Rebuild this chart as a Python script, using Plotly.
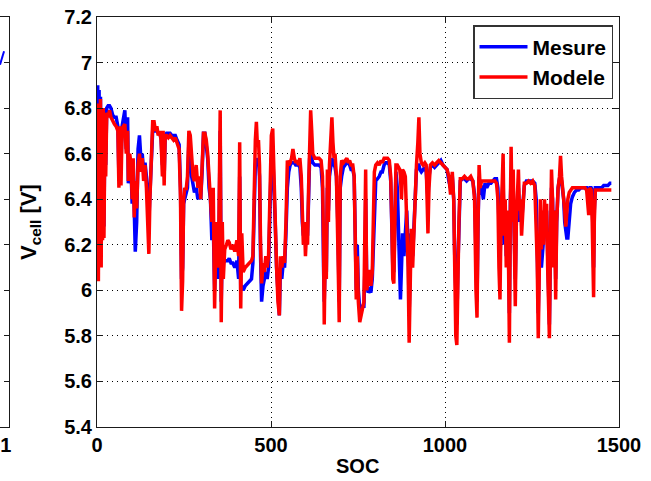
import plotly.graph_objects as go

# SOC sample positions shared by both series
soc = [
    0, 2, 4, 6, 8, 10, 12, 14, 16, 18, 20, 23, 25, 28, 32, 36, 40, 45, 50, 55,
    60, 63, 66, 69, 72, 76, 80, 84, 88, 90, 94, 98, 101, 104, 107, 110, 114, 118, 122, 126,
    130, 134, 138, 142, 146, 149, 152, 156, 160, 164, 168, 172, 176, 180, 184, 188, 190, 193, 196, 200,
    205, 210, 215, 220, 225, 230, 236, 240, 243, 246, 249, 252, 256, 260, 264, 268, 272, 276, 280, 285,
    290, 294, 298, 302, 306, 310, 314, 318, 322, 326, 330, 334, 338, 342, 346, 350, 354, 357, 360, 363,
    367, 372, 376, 380, 385, 390, 396, 402, 407, 410, 413, 416, 420, 426, 432, 438, 444, 448, 452, 455,
    458, 461, 464, 467, 470, 473, 477, 481, 485, 489, 493, 497, 501, 505, 508, 512, 516, 520, 524, 527,
    531, 535, 539, 543, 547, 551, 555, 559, 563, 567, 571, 575, 579, 583, 587, 590, 593, 596, 599, 602,
    605, 608, 611, 614, 617, 620, 626, 632, 638, 644, 648, 651, 653, 656, 659, 662, 665, 668, 672, 675,
    678, 681, 684, 688, 692, 696, 699, 703, 708, 713, 718, 722, 726, 730, 735, 739, 742, 745, 748, 751,
    755, 759, 763, 767, 770, 772, 775, 779, 783, 787, 791, 794, 797, 801, 806, 811, 816, 820, 825, 830,
    835, 840, 844, 847, 850, 853, 856, 859, 863, 867, 870, 872, 875, 878, 882, 886, 890, 894, 897, 900,
    903, 907, 910, 914, 918, 922, 925, 928, 932, 937, 942, 946, 949, 951, 954, 958, 964, 970, 976, 982,
    988, 994, 1000, 1006, 1011, 1016, 1021, 1025, 1028, 1031, 1034, 1037, 1040, 1044, 1050, 1056, 1062, 1068, 1074, 1080,
    1085, 1089, 1092, 1095, 1098, 1101, 1105, 1110, 1115, 1120, 1126, 1132, 1138, 1143, 1148, 1152, 1155, 1158, 1161, 1164,
    1167, 1170, 1173, 1176, 1179, 1182, 1185, 1188, 1190, 1193, 1196, 1199, 1202, 1205, 1208, 1211, 1214, 1217, 1220, 1224,
    1228, 1234, 1240, 1246, 1252, 1258, 1262, 1265, 1268, 1271, 1274, 1277, 1280, 1283, 1286, 1289, 1292, 1295, 1298, 1300,
    1303, 1306, 1309, 1312, 1315, 1318, 1321, 1325, 1329, 1332, 1335, 1338, 1341, 1344, 1347, 1350, 1353, 1357, 1361, 1366,
    1372, 1378, 1384, 1390, 1396, 1402, 1407, 1410, 1413, 1416, 1420, 1423, 1425, 1427, 1429, 1432, 1438, 1444, 1450, 1456,
    1462, 1468, 1474, 1478,
]

v_mesure = [
    6.15, 6.90, 6.14, 6.88, 6.40, 6.85, 6.20, 6.80, 6.30, 6.80, 6.28, 6.78, 6.55, 6.80, 6.81, 6.81, 6.80, 6.77, 6.76, 6.76,
    6.72, 6.50, 6.70, 6.55, 6.72, 6.75, 6.79, 6.62, 6.76, 6.47, 6.58, 6.52, 6.38, 6.55, 6.26, 6.17, 6.30, 6.62, 6.68, 6.58,
    6.60, 6.52, 6.56, 6.50, 6.40, 6.30, 6.42, 6.62, 6.70, 6.72, 6.70, 6.70, 6.69, 6.69, 6.67, 6.55, 6.68, 6.50, 6.68, 6.69,
    6.69, 6.69, 6.68, 6.68, 6.68, 6.66, 6.64, 6.45, 6.05, 6.10, 6.38, 6.40, 6.42, 6.45, 6.65, 6.62, 6.50, 6.45, 6.43, 6.45,
    6.40, 6.42, 6.40, 6.52, 6.69, 6.69, 6.64, 6.58, 6.45, 6.40, 6.22, 6.30, 6.00, 6.20, 6.05, 6.15, 6.70, 5.95, 6.20, 6.12,
    6.13, 6.13, 6.13, 6.14, 6.12, 6.12, 6.10, 6.13, 6.05, 6.50, 6.00, 6.02, 6.00, 6.02, 6.03, 6.04, 6.05, 6.12, 6.40, 6.55,
    6.58, 6.56, 6.57, 6.50, 6.15, 5.95, 6.02, 6.05, 6.08, 6.05, 6.10, 6.35, 6.58, 6.60, 6.50, 6.30, 6.10, 5.95, 5.89, 6.10,
    6.05, 6.12, 6.10, 6.25, 6.45, 6.52, 6.55, 6.56, 6.56, 6.56, 6.55, 6.55, 6.55, 6.54, 6.45, 6.30, 6.24, 6.25, 6.20, 6.25,
    6.24, 6.40, 6.58, 6.60, 6.58, 6.56, 6.55, 6.55, 6.55, 6.54, 6.45, 6.10, 5.95, 6.15, 6.08, 6.45, 6.35, 6.50, 6.55, 6.58,
    6.56, 6.55, 6.54, 6.50, 6.30, 5.95, 6.45, 6.50, 6.54, 6.55, 6.56, 6.56, 6.55, 6.53, 6.53, 6.50, 6.25, 6.00, 6.20, 6.00,
    5.92, 5.93, 5.93, 5.93, 6.10, 6.40, 6.05, 5.99, 6.00, 5.99, 6.05, 6.20, 6.40, 6.48, 6.49, 6.50, 6.52, 6.52, 6.55, 6.56,
    6.56, 6.55, 6.48, 6.30, 6.10, 6.08, 6.35, 6.52, 6.45, 6.20, 6.05, 5.96, 6.10, 6.25, 6.15, 6.25, 6.35, 6.20, 5.90, 6.10,
    6.25, 6.15, 6.25, 6.40, 6.53, 6.55, 6.55, 6.53, 6.52, 6.53, 6.54, 6.52, 6.45, 6.40, 6.50, 6.54, 6.55, 6.54, 6.55, 6.56,
    6.57, 6.55, 6.54, 6.53, 6.48, 6.45, 6.50, 6.40, 6.15, 5.90, 5.85, 6.10, 6.35, 6.48, 6.49, 6.49, 6.48, 6.49, 6.49, 6.48,
    6.42, 6.10, 5.95, 6.30, 6.50, 6.42, 6.46, 6.40, 6.47, 6.45, 6.47, 6.47, 6.48, 6.49, 6.49, 6.45, 6.30, 6.10, 6.35, 6.40,
    6.48, 6.20, 6.35, 6.15, 6.30, 6.20, 5.90, 6.40, 6.50, 6.35, 6.45, 6.25, 6.05, 6.30, 6.40, 6.45, 6.30, 6.38, 6.30, 6.38,
    6.46, 6.48, 6.48, 6.48, 6.48, 6.47, 6.40, 6.20, 5.90, 6.15, 6.20, 6.10, 6.15, 6.22, 6.35, 6.25, 6.35, 6.15, 5.95, 5.85,
    6.20, 6.45, 6.40, 6.15, 6.35, 6.05, 6.30, 6.45, 6.49, 6.50, 6.48, 6.45, 6.40, 6.30, 6.25, 6.23, 6.23, 6.30, 6.38, 6.41,
    6.43, 6.44, 6.44, 6.45, 6.45, 6.45, 6.45, 6.44, 6.44, 6.45, 6.45, 6.44, 6.20, 6.10, 6.35, 6.45, 6.45, 6.45, 6.45, 6.46,
    6.46, 6.46, 6.47, 6.47,
]

v_modele = [
    6.15, 6.82, 6.04, 6.80, 6.30, 6.84, 6.10, 6.78, 6.22, 6.80, 6.23, 6.76, 6.50, 6.78, 6.76, 6.79, 6.76, 6.74, 6.73, 6.72,
    6.70, 6.45, 6.72, 6.46, 6.70, 6.72, 6.73, 6.60, 6.70, 6.48, 6.60, 6.55, 6.40, 6.58, 6.32, 6.48, 6.36, 6.55, 6.60, 6.52,
    6.58, 6.48, 6.55, 6.45, 6.20, 6.16, 6.40, 6.60, 6.74, 6.74, 6.70, 6.72, 6.68, 6.70, 6.66, 6.50, 6.70, 6.46, 6.68, 6.68,
    6.67, 6.68, 6.67, 6.66, 6.67, 6.65, 6.62, 6.40, 5.91, 6.04, 6.40, 6.45, 6.44, 6.50, 6.70, 6.68, 6.55, 6.50, 6.48, 6.55,
    6.45, 6.50, 6.40, 6.55, 6.69, 6.69, 6.66, 6.60, 6.50, 6.45, 6.30, 6.45, 5.92, 6.30, 6.10, 6.25, 6.79, 5.86, 6.30, 6.05,
    6.18, 6.20, 6.22, 6.21, 6.18, 6.20, 6.17, 6.22, 6.15, 6.65, 5.92, 6.25, 6.08, 6.10, 6.11, 6.12, 6.13, 6.15, 6.60, 6.66,
    6.74, 6.63, 6.66, 6.55, 6.20, 6.03, 6.12, 6.08, 6.15, 6.10, 6.15, 6.40, 6.68, 6.71, 6.55, 6.20, 6.10, 5.95, 5.89, 6.15,
    6.10, 6.15, 6.12, 6.30, 6.57, 6.55, 6.56, 6.58, 6.62, 6.58, 6.56, 6.57, 6.55, 6.58, 6.50, 6.35, 6.20, 6.30, 6.15, 6.25,
    6.20, 6.45, 6.70, 6.79, 6.70, 6.60, 6.58, 6.58, 6.58, 6.57, 6.50, 6.20, 5.85, 6.20, 6.05, 6.53, 6.30, 6.55, 6.65, 6.76,
    6.65, 6.58, 6.60, 6.50, 6.20, 5.86, 6.50, 6.57, 6.56, 6.57, 6.58, 6.56, 6.57, 6.55, 6.55, 6.50, 6.20, 5.96, 6.15, 5.95,
    5.86, 5.90, 5.92, 5.95, 6.20, 6.53, 6.00, 6.05, 6.09, 6.02, 6.08, 6.30, 6.52, 6.55, 6.56, 6.55, 6.57, 6.56, 6.58, 6.58,
    6.58, 6.57, 6.50, 6.31, 6.05, 6.03, 6.40, 6.55, 6.55, 6.54, 6.53, 6.50, 6.40, 6.53, 6.52, 6.50, 6.30, 6.10, 5.77, 6.15,
    6.27, 6.10, 6.25, 6.40, 6.55, 6.65, 6.76, 6.60, 6.56, 6.55, 6.56, 6.55, 6.40, 6.25, 6.45, 6.55, 6.56, 6.55, 6.56, 6.57,
    6.56, 6.55, 6.54, 6.53, 6.50, 6.42, 6.52, 6.40, 6.10, 5.80, 5.76, 6.10, 6.30, 6.49, 6.49, 6.50, 6.49, 6.49, 6.50, 6.48,
    6.40, 6.00, 5.88, 6.30, 6.55, 6.45, 6.48, 6.48, 6.48, 6.48, 6.48, 6.48, 6.48, 6.48, 6.47, 6.40, 6.10, 5.96, 6.30, 6.45,
    6.60, 6.24, 6.40, 6.10, 6.35, 6.20, 5.77, 6.40, 6.63, 6.30, 6.53, 6.24, 5.93, 6.30, 6.45, 6.53, 6.35, 6.40, 6.24, 6.40,
    6.47, 6.47, 6.48, 6.47, 6.48, 6.46, 6.30, 6.12, 5.79, 6.20, 6.40, 6.18, 6.35, 6.20, 6.40, 6.25, 6.38, 6.10, 5.90, 5.79,
    6.20, 6.53, 6.40, 6.10, 6.35, 5.96, 6.30, 6.45, 6.50, 6.59, 6.50, 6.46, 6.40, 6.35, 6.28, 6.35, 6.40, 6.43, 6.44, 6.45,
    6.45, 6.45, 6.45, 6.45, 6.45, 6.45, 6.44, 6.40, 6.33, 6.45, 6.44, 6.30, 6.00, 5.97, 6.30, 6.44, 6.44, 6.44, 6.44, 6.44,
    6.44, 6.44, 6.44, 6.44,
]

x_ticks = [0, 500, 1000, 1500]
y_ticks = [5.4, 5.6, 5.8, 6.0, 6.2, 6.4, 6.6, 6.8, 7.0, 7.2]
y_tick_text = ["5.4", "5.6", "5.8", "6", "6.2", "6.4", "6.6", "6.8", "7", "7.2"]

# cropped neighbouring subplot visible at the left edge
left_x = [0.35, 0.8]
left_v = [6.99, 7.05]
left_ticks = [1]

W, H = 651, 481
ML, MR, MT, MB = 0, 32, 17, 54
pw = W - ML - MR
ph = H - MT - MB
x0 = 97 / pw

font = "Liberation Sans, Arial, sans-serif"
tickfont = dict(family=font, size=20, color="black", weight="bold")
axcol = "#1a1a1a"
gridcol = "#000000"

fig = go.Figure()
fig.add_trace(go.Scatter(x=soc, y=v_mesure, name="Mesure", mode="lines",
                         line=dict(color="#0000ff", width=3.5)))
fig.add_trace(go.Scatter(x=soc, y=v_modele, name="Modele", mode="lines",
                         line=dict(color="#ff0000", width=3.5)))
fig.add_trace(go.Scatter(x=left_x, y=left_v, mode="lines", showlegend=False,
                         xaxis="x2", yaxis="y2", line=dict(color="#0000ff", width=2)))

fig.update_layout(
    width=W, height=H,
    margin=dict(l=ML, r=MR, t=MT, b=MB, autoexpand=False),
    paper_bgcolor="white", plot_bgcolor="white",
    showlegend=True,
    legend=dict(x=613 / pw, y=1 - 8 / ph, xanchor="right", yanchor="top",
                bgcolor="white", bordercolor="#333333", borderwidth=1.5,
                itemwidth=48,
                font=dict(family=font, size=21, color="black", weight="bold"),
                tracegroupgap=0),
    xaxis=dict(domain=[x0, 1], range=[0, 1500], tickvals=x_ticks,
               showline=True, linecolor=axcol, linewidth=1, mirror="ticks",
               ticks="inside", ticklen=6, tickcolor=axcol,
               showgrid=True, gridcolor=gridcol, griddash="1px,4px", gridwidth=1,
               zeroline=False, tickfont=tickfont),
    yaxis=dict(range=[5.4, 7.2], tickvals=y_ticks, ticktext=y_tick_text,
               showline=True, linecolor=axcol, linewidth=1, mirror="ticks",
               ticks="inside", ticklen=6, tickcolor=axcol,
               showgrid=True, gridcolor=gridcol, griddash="1px,4px", gridwidth=1,
               zeroline=False, tickfont=tickfont),
    xaxis2=dict(domain=[0, 9 / pw], range=[0.35, 1.35], tickvals=left_ticks, ticks="",
                ticklabeloverflow="allow",
                showline=True, linecolor=axcol, linewidth=1, mirror=True,
                showgrid=False, zeroline=False, tickfont=tickfont, anchor="y2"),
    yaxis2=dict(range=[5.4, 7.2], tickvals=y_ticks, showticklabels=False,
                side="right", anchor="x2", ticks="inside", ticklen=5, tickcolor=axcol,
                showline=True, linecolor=axcol, linewidth=1,
                showgrid=False, zeroline=False),
    annotations=[
        dict(text="<b>V<sub>cell</sub> [V]</b>", textangle=-90,
             xref="paper", yref="paper", x=30 / pw, y=1 - (222 - MT) / ph,
             xanchor="center", yanchor="middle", showarrow=False,
             font=dict(family=font, size=22, color="black")),
        dict(text="<b>SOC</b>", xref="paper", yref="paper",
             x=357 / pw, y=-(466 - (H - MB)) / ph,
             xanchor="center", yanchor="middle", showarrow=False,
             font=dict(family=font, size=20, color="black")),
    ],
)

# the page body keeps its default 8px margin otherwise
fig.write_html("out.html", config={"displayModeBar": False},
               post_script="document.body.style.margin='0';")
